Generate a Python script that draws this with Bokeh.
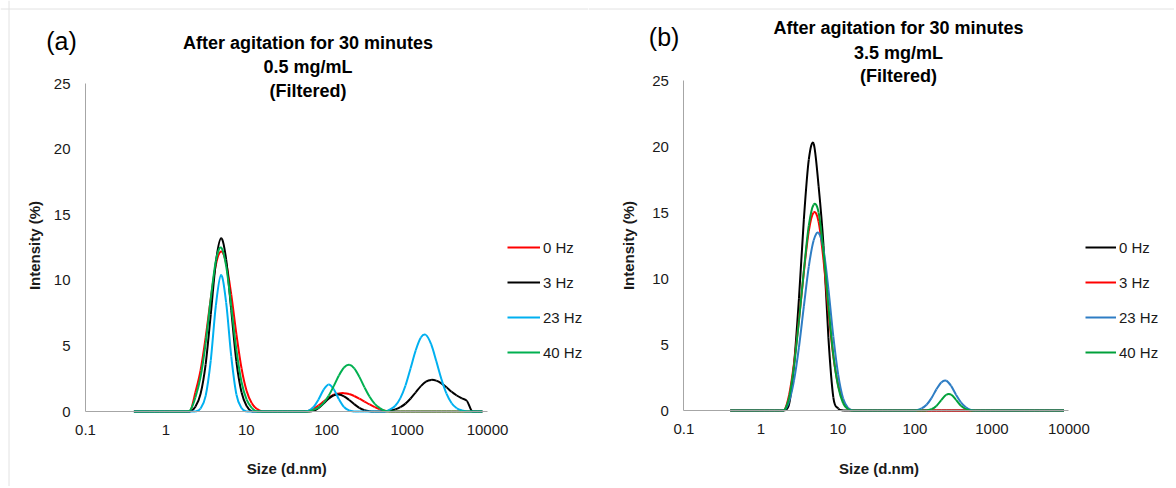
import math
from bokeh.plotting import figure
from bokeh.models import (Range1d, FixedTicker, CustomJSTickFormatter, Label, Legend,
                          LegendItem, Span, ColumnDataSource)
from bokeh.layouts import row
from bokeh.embed import file_html
from bokeh.resources import INLINE

# ---------------- data ----------------
sizes = [0.4, 0.4632, 0.5365, 0.6213, 0.7195, 0.8332, 0.9649, 1.117, 1.294, 1.499,
         1.736, 2.01, 2.328, 2.696, 3.122, 3.615, 4.187, 4.849, 5.615, 6.503,
         7.531, 8.721, 10.1, 11.7, 13.54, 15.69, 18.17, 21.04, 24.36, 28.21,
         32.67, 37.84, 43.82, 50.75, 58.77, 68.06, 78.82, 91.28, 105.7, 122.4,
         141.8, 164.2, 190.1, 220.2, 255.0, 295.3, 342.0, 396.1, 458.7, 531.2,
         615.1, 712.4, 825.0, 955.4, 1106, 1281, 1484, 1718, 1990, 2305,
         2669, 3091, 3580, 4145, 4801, 5560, 6439, 7456, 8635]

# panel (a): 0.5 mg/mL
a_0hz = [0, 0, 0, 0, 0, 0, 0, 0, 0, 0,
         0, 0, 1.46, 3.13, 5.65, 8.6, 11.2, 12.2, 11.3, 8.9,
         5.9, 3.3, 1.56, 0.63, 0.2, 0, 0, 0, 0, 0,
         0, 0, 0, 0, 0.05, 0.2, 0.45, 0.75, 1.05, 1.28,
         1.38, 1.40, 1.33, 1.18, 0.98, 0.76, 0.54, 0.34, 0.17, 0.05,
         0, 0, 0, 0, 0, 0, 0, 0, 0, 0,
         0, 0, 0, 0, 0, 0, 0, 0, 0]
a_3hz = [0, 0, 0, 0, 0, 0, 0, 0, 0, 0,
         0, 0, 0.37, 1.34, 3.6, 7.4, 11.4, 13.2, 11.6, 7.7,
         3.8, 1.46, 0.42, 0, 0, 0, 0, 0, 0, 0,
         0, 0, 0, 0, 0, 0.05, 0.25, 0.6, 0.98, 1.24,
         1.3, 1.16, 0.88, 0.56, 0.28, 0.1, 0.02, 0, 0, 0,
         0.07, 0.16, 0.33, 0.6, 0.99, 1.46, 1.93, 2.28, 2.41, 2.35,
         2.15, 1.85, 1.5, 1.22, 1.0, 0.8, 0, 0, 0]
a_23hz = [0, 0, 0, 0, 0, 0, 0, 0, 0, 0,
          0, 0, 0, 0.23, 1.19, 3.9, 8.1, 10.4, 8.3, 4.2,
          1.3, 0.26, 0, 0, 0, 0, 0, 0, 0, 0,
          0, 0, 0, 0, 0.05, 0.32, 0.9, 1.65, 2.06, 1.7,
          0.93, 0.34, 0.08, 0, 0, 0, 0, 0, 0, 0,
          0.17, 0.44, 1.02, 1.98, 3.3, 4.67, 5.64, 5.83, 5.13, 3.85,
          2.48, 1.36, 0.63, 0.25, 0.08, 0, 0, 0, 0]
a_40hz = [0, 0, 0, 0, 0, 0, 0, 0, 0, 0,
          0, 0.1, 1.07, 2.63, 5.2, 8.6, 11.5, 12.5, 11.1, 8.0,
          4.7, 2.25, 0.9, 0.28, 0, 0, 0, 0, 0, 0,
          0, 0, 0, 0, 0, 0.12, 0.3, 0.64, 1.2, 1.94,
          2.74, 3.35, 3.56, 3.29, 2.64, 1.84, 1.12, 0.58, 0.26, 0.05,
          0, 0, 0, 0, 0, 0, 0, 0, 0, 0,
          0, 0, 0, 0, 0, 0, 0, 0, 0]

# panel (b): 3.5 mg/mL
b_0hz = [0, 0, 0, 0, 0, 0, 0, 0, 0, 0,
         0, 0, 0.5, 3.5, 8.5, 14.5, 19.0, 20.2, 17.0, 12.5,
         5.5, 1.0, 0.15, 0, 0, 0, 0, 0, 0, 0,
         0, 0, 0, 0, 0, 0, 0, 0, 0, 0,
         0, 0, 0, 0, 0, 0, 0, 0, 0, 0,
         0, 0, 0, 0, 0, 0, 0, 0, 0, 0,
         0, 0, 0, 0, 0, 0, 0, 0, 0]
b_3hz = [0, 0, 0, 0, 0, 0, 0, 0, 0, 0,
         0, 0, 1.2, 3.6, 6.9, 10.5, 13.6, 15.0, 14.3, 11.4,
         7.5, 4.1, 1.9, 0.7, 0.15, 0, 0, 0, 0, 0,
         0, 0, 0, 0, 0, 0, 0, 0, 0, 0,
         0, 0, 0, 0, 0, 0, 0, 0, 0, 0,
         0, 0, 0, 0, 0, 0, 0, 0, 0, 0,
         0, 0, 0, 0, 0, 0, 0, 0, 0]
b_23hz = [0, 0, 0, 0, 0, 0, 0, 0, 0, 0,
          0, 0, 0.7, 2.3, 4.8, 7.9, 10.9, 12.9, 13.45, 12.2,
          9.2, 5.6, 2.7, 0.9, 0.2, 0, 0, 0, 0, 0,
          0, 0, 0, 0, 0, 0, 0, 0, 0.02, 0.16,
          0.44, 0.94, 1.6, 2.13, 2.25, 1.86, 1.2, 0.62, 0.25, 0.05,
          0, 0, 0, 0, 0, 0, 0, 0, 0, 0,
          0, 0, 0, 0, 0, 0, 0, 0, 0]
b_40hz = [0, 0, 0, 0, 0, 0, 0, 0, 0, 0,
          0, 0, 1.0, 3.4, 6.8, 10.6, 14.0, 15.6, 15.0, 12.0,
          7.9, 4.2, 1.8, 0.55, 0.1, 0, 0, 0, 0, 0,
          0, 0, 0, 0, 0, 0, 0, 0, 0, 0,
          0.02, 0.1, 0.34, 0.79, 1.19, 1.2, 0.81, 0.36, 0.11, 0,
          0, 0, 0, 0, 0, 0, 0, 0, 0, 0,
          0, 0, 0, 0, 0, 0, 0, 0, 0]

names = ["0 Hz", "3 Hz", "23 Hz", "40 Hz"]
x_ticks = [0.1, 1, 10, 100, 1000, 10000]
x_tick_labels = ["0.1", "1", "10", "100", "1000", "10000"]
y_ticks = [0, 5, 10, 15, 20, 25]
a_title = ["After agitation for 30 minutes", "0.5 mg/mL", "(Filtered)"]
b_title = ["After agitation for 30 minutes", "3.5 mg/mL", "(Filtered)"]

# ---------------- style ----------------
FONT = "Liberation Sans"
TXT = "#1a1a1a"
a_colors = ["#ff0000", "#000000", "#00b0f0", "#00b050"]
b_colors = ["#000000", "#ff0000", "#2e7dc4", "#00a03a"]
FIG_H = 486


def smoothed(xs, ys):
    """Bezier segments (Excel-like 'smoothed line') through the data points,
    computed in log-x space."""
    u = [math.log10(v) for v in xs]
    n = len(u)
    d = dict(x0=[], y0=[], x1=[], y1=[], cx0=[], cy0=[], cx1=[], cy1=[])
    for i in range(n - 1):
        im, ip2 = max(i - 1, 0), min(i + 2, n - 1)
        c0u = u[i] + (u[i + 1] - u[im]) / 6.0
        c0y = max(0.0, ys[i] + (ys[i + 1] - ys[im]) / 6.0)
        c1u = u[i + 1] - (u[ip2] - u[i]) / 6.0
        c1y = max(0.0, ys[i + 1] - (ys[ip2] - ys[i]) / 6.0)
        d["x0"].append(xs[i]); d["y0"].append(ys[i])
        d["x1"].append(xs[i + 1]); d["y1"].append(ys[i + 1])
        d["cx0"].append(10 ** c0u); d["cy0"].append(c0y)
        d["cx1"].append(10 ** c1u); d["cy1"].append(c1y)
    return ColumnDataSource(d)


def make_panel(tag, title_lines, values, colors, fig_left, fig_w, ax_x0, px_dec, ax_y0, px_unit,
               tag_pos, title_x, title_ys, ylab_pos, xlab_pos, leg_left, glyph_w, borders):
    # page-pixel geometry -> data ranges so that the frame fills the whole figure
    lo = -1 + (fig_left - ax_x0) / px_dec
    hi = -1 + (fig_left + fig_w - ax_x0) / px_dec
    ytop = ax_y0 / px_unit
    ybot = (ax_y0 - FIG_H) / px_unit
    p = figure(width=fig_w, height=FIG_H, x_axis_type="log", title=None,
               x_range=Range1d(10 ** lo, 10 ** hi), y_range=Range1d(ybot, ytop),
               output_backend="svg", toolbar_location=None, min_border=0)
    p.outline_line_color = None
    p.grid.visible = False
    p.background_fill_color = "white"
    p.border_fill_color = "white"

    for ax in (p.xaxis[0], p.yaxis[0]):
        ax.axis_line_color = "#a6a6a6"
        ax.axis_line_width = 1
        ax.major_tick_line_color = None
        ax.minor_tick_line_color = None
        ax.major_tick_out = 0
        ax.major_tick_in = 0
        ax.major_label_text_font = FONT
        ax.major_label_text_font_size = "15px"
        ax.major_label_text_color = TXT
    p.xaxis.ticker = FixedTicker(ticks=x_ticks)
    p.xaxis.formatter = CustomJSTickFormatter(code="return String(tick);")
    p.xaxis.major_label_overrides = dict(zip(x_ticks, x_tick_labels))
    p.xaxis.major_label_standoff = 13
    p.xaxis.fixed_location = 0
    p.xaxis.bounds = (x_ticks[0], x_ticks[-1])
    p.yaxis.ticker = FixedTicker(ticks=y_ticks)
    p.yaxis.major_label_standoff = 15
    p.yaxis.fixed_location = x_ticks[0]
    p.yaxis.bounds = (y_ticks[0], y_ticks[-1])

    items = []
    for name, vals, col in zip(names, values, colors):
        p.bezier(x0="x0", y0="y0", x1="x1", y1="y1", cx0="cx0", cy0="cy0",
                 cx1="cx1", cy1="cy1", source=smoothed(sizes, vals),
                 line_color=col, line_width=2)
        # one-point line (draws nothing in the plot) that carries the legend key
        key = p.line(sizes[:1], vals[:1], line_color=col, line_width=2)
        items.append(LegendItem(label=name, renderers=[key]))

    # legend: first entry centred at page y 247, entries 35 px apart
    leg = Legend(items=items, location=(leg_left - fig_left, FIG_H - 362),
                 glyph_width=glyph_w, glyph_height=20,
                 label_height=20, spacing=15, padding=0, margin=0, label_standoff=3,
                 border_line_color=None, background_fill_alpha=0,
                 label_text_font=FONT, label_text_font_size="15px", label_text_color=TXT)
    p.add_layout(leg)

    def lab(x, y, text, size, bold=False, angle=0.0, color=TXT):
        p.add_layout(Label(x=x - fig_left, y=FIG_H - y, x_units="screen", y_units="screen",
                           text=text, angle=angle, text_align="center", text_baseline="middle",
                           text_font=FONT, text_font_size=size,
                           text_font_style="bold" if bold else "normal", text_color=color))

    lab(tag_pos[0], tag_pos[1], tag, "25px", color="#000000")
    for ty, line in zip(title_ys, title_lines):
        lab(title_x, ty, line, "18px", bold=True, color="#000000")
    lab(ylab_pos[0], ylab_pos[1], "Intensity (%)", "15px", bold=True, angle=1.5707963)
    lab(xlab_pos[0], xlab_pos[1], "Size (d.nm)", "15px", bold=True)

    # light frame of the original picture
    if "top" in borders:
        p.add_layout(Span(location=(ax_y0 - 8.5) / px_unit, dimension="width",
                          line_color="#e2e2e2", line_width=1))
    if "left" in borders:
        p.add_layout(Span(location=10 ** (-1 + (8.5 - ax_x0) / px_dec), dimension="height",
                          line_color="#e2e2e2", line_width=1))
    return p


pa = make_panel("(a)", a_title, [a_0hz, a_3hz, a_23hz, a_40hz], a_colors,
                fig_left=0, fig_w=588, ax_x0=85, px_dec=80.4, ax_y0=411, px_unit=13.12,
                tag_pos=(61, 40), title_x=307.5, title_ys=[42.2, 66.2, 90],
                ylab_pos=(34, 245), xlab_pos=(286.3, 468.3),
                leg_left=507, glyph_w=33, borders=("top", "left"))

pb = make_panel("(b)", b_title, [b_0hz, b_3hz, b_23hz, b_40hz], b_colors,
                fig_left=588, fig_w=586, ax_x0=683.4, px_dec=77.0, ax_y0=410, px_unit=13.2,
                tag_pos=(663.6, 36), title_x=898, title_ys=[27, 52, 75.5],
                ylab_pos=(628, 245), xlab_pos=(878.6, 468),
                leg_left=1085, glyph_w=31, borders=("top",))

layout = row(pa, pb)

open("out.html", "w").write(file_html(layout, INLINE))
